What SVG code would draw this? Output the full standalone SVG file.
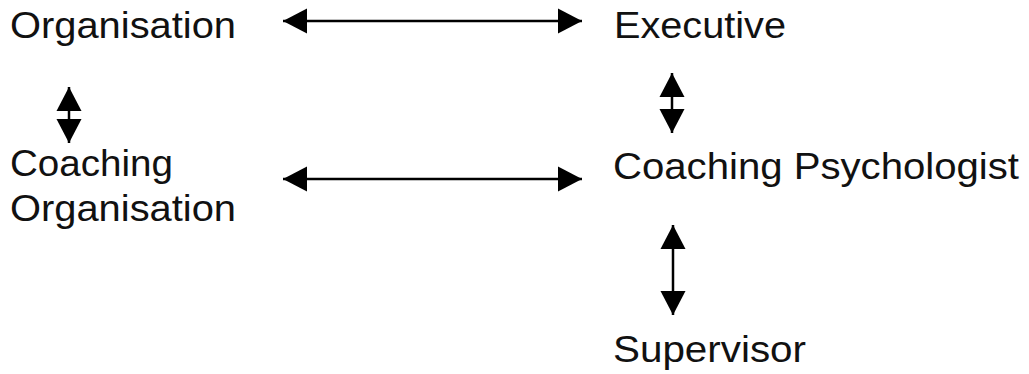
<svg xmlns="http://www.w3.org/2000/svg" width="1029" height="374" viewBox="0 0 1029 374">
<style>
  .lbl { font-family: "Liberation Sans", Arial, sans-serif; font-size: 36px; fill: #111; }
  .conn { stroke: #000; stroke-width: 2.5; fill: none; marker-start: url(#ah); marker-end: url(#ah); }
</style>
<defs>
  <marker id="ah" markerUnits="userSpaceOnUse" markerWidth="25" markerHeight="26" refX="24" refY="13" orient="auto-start-reverse" viewBox="0 0 25 26">
    <path d="M0,0.5 L24,13 L0,25.5 z" fill="#000"/>
  </marker>
</defs>
<rect width="1029" height="374" fill="#fff"/>
<g id="node-organisation"><text class="lbl" x="10" y="38" textLength="226" lengthAdjust="spacingAndGlyphs">Organisation</text></g>
<g id="node-executive"><text class="lbl" x="614" y="38" textLength="172" lengthAdjust="spacingAndGlyphs">Executive</text></g>
<g id="node-coaching-organisation">
  <text class="lbl" x="10" y="176" textLength="163" lengthAdjust="spacingAndGlyphs">Coaching</text>
  <text class="lbl" x="10" y="221" textLength="226" lengthAdjust="spacingAndGlyphs">Organisation</text>
</g>
<g id="node-coaching-psychologist"><text class="lbl" x="613" y="179" textLength="406" lengthAdjust="spacingAndGlyphs">Coaching Psychologist</text></g>
<g id="node-supervisor"><text class="lbl" x="613" y="362" textLength="193" lengthAdjust="spacingAndGlyphs">Supervisor</text></g>
<g id="connectors">
  <line class="conn" x1="283" y1="21" x2="582" y2="21"/>
  <line class="conn" x1="283" y1="179" x2="582" y2="179"/>
  <line class="conn" x1="69" y1="87" x2="69" y2="143"/>
  <line class="conn" x1="672" y1="73" x2="672" y2="133"/>
  <line class="conn" x1="673" y1="225" x2="673" y2="315"/>
</g>
</svg>
